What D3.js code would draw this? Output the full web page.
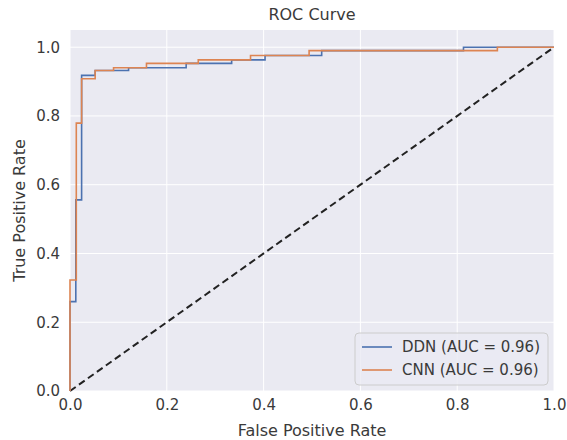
<!DOCTYPE html>
<html>
<head>
<meta charset="utf-8">
<script src="https://cdn.jsdelivr.net/npm/d3@7"></script>
<style>
  body { margin: 0; background: #fff; }
  text { font-family: "DejaVu Sans", sans-serif; fill: #3a3a3a; }
</style>
</head>
<body>
<svg id="chart" width="567" height="440"></svg>
<script>
// ROC points (corner points, as roc_curve gives them)
const ddnFpr = [0, 0, 0.012, 0.012, 0.024, 0.024, 0.052, 0.052, 0.121, 0.121, 0.240, 0.240, 0.334, 0.334, 0.403, 0.403, 0.520, 0.520, 0.813, 0.813, 1.0];
const ddnTpr = [0, 0.26, 0.26, 0.556, 0.556, 0.918, 0.918, 0.932, 0.932, 0.940, 0.940, 0.953, 0.953, 0.963, 0.963, 0.976, 0.976, 0.990, 0.990, 1.0, 1.0];
const cnnFpr = [0, 0, 0.013, 0.013, 0.024, 0.024, 0.052, 0.052, 0.090, 0.090, 0.158, 0.158, 0.265, 0.265, 0.373, 0.373, 0.494, 0.494, 0.883, 0.883, 1.0];
const cnnTpr = [0, 0.323, 0.323, 0.779, 0.779, 0.908, 0.908, 0.932, 0.932, 0.940, 0.940, 0.953, 0.953, 0.963, 0.963, 0.976, 0.976, 0.990, 0.990, 1.0, 1.0];
const seriesNames = ["DDN (AUC = 0.96)", "CNN (AUC = 0.96)"];
const seriesColors = ["#4C72B0", "#DD8452"];
const tickValues = [0, 0.2, 0.4, 0.6, 0.8, 1.0];

const margin = { left: 70, right: 13, top: 30, bottom: 49 };
const W = 567, H = 440;
const iw = W - margin.left - margin.right, ih = H - margin.top - margin.bottom;

const svg = d3.select("#chart");
const g = svg.append("g").attr("transform", `translate(${margin.left},${margin.top})`);

const x = d3.scaleLinear().domain([0, 1]).range([0, iw]);
const y = d3.scaleLinear().domain([0, 1.05]).range([ih, 0]);

// darkgrid background
g.append("rect").attr("width", iw).attr("height", ih).attr("fill", "#EAEAF2");

// grid
g.append("g").selectAll("line.vg").data(tickValues).enter().append("line")
    .attr("x1", d => x(d)).attr("x2", d => x(d)).attr("y1", 0).attr("y2", ih)
    .attr("stroke", "#fff").attr("stroke-width", 1);
g.append("g").selectAll("line.hg").data(tickValues).enter().append("line")
    .attr("y1", d => y(d)).attr("y2", d => y(d)).attr("x1", 0).attr("x2", iw)
    .attr("stroke", "#fff").attr("stroke-width", 1);

// axes (ticks only, no spines)
const xAxis = g.append("g").attr("transform", `translate(0,${ih})`)
    .call(d3.axisBottom(x).tickValues(tickValues).tickFormat(d3.format(".1f")).tickSize(0).tickPadding(8));
const yAxis = g.append("g")
    .call(d3.axisLeft(y).tickValues(tickValues).tickFormat(d3.format(".1f")).tickSize(0).tickPadding(10));
[xAxis, yAxis].forEach(a => {
    a.select(".domain").remove();
    a.selectAll("text").attr("font-size", 15).attr("fill", "#3a3a3a").attr("font-family", "DejaVu Sans");
});

// chance line
g.append("line")
    .attr("x1", x(0)).attr("y1", y(0)).attr("x2", x(1)).attr("y2", y(1))
    .attr("stroke", "#222").attr("stroke-width", 2).attr("stroke-dasharray", "7,4");

// curves
const line = d3.line().x(d => x(d[0])).y(d => y(d[1]));
const curves = [d3.zip(ddnFpr, ddnTpr), d3.zip(cnnFpr, cnnTpr)];
g.selectAll("path.roc").data(curves).enter().append("path")
    .attr("class", "roc")
    .attr("d", line)
    .attr("fill", "none")
    .attr("stroke", (d, i) => seriesColors[i])
    .attr("stroke-width", 1.6);

// titles
svg.append("text").attr("x", margin.left + iw / 2).attr("y", 20)
    .attr("text-anchor", "middle").attr("font-size", 16).text("ROC Curve");
svg.append("text").attr("x", margin.left + iw / 2).attr("y", 436)
    .attr("text-anchor", "middle").attr("font-size", 16).text("False Positive Rate");
svg.append("text").attr("transform", `translate(25,${margin.top + ih / 2}) rotate(-90)`)
    .attr("text-anchor", "middle").attr("font-size", 16).text("True Positive Rate");

// legend
const leg = svg.append("g").attr("transform", "translate(355,333)");
leg.append("rect").attr("width", 193).attr("height", 52).attr("rx", 4)
    .attr("fill", "#EAEAF2").attr("fill-opacity", 0.8)
    .attr("stroke", "#cccccc").attr("stroke-width", 1);
seriesNames.forEach((name, i) => {
    const yy = 14 + i * 23;
    leg.append("line").attr("x1", 7).attr("x2", 37).attr("y1", yy).attr("y2", yy)
        .attr("stroke", seriesColors[i]).attr("stroke-width", 1.6);
    leg.append("text").attr("x", 47).attr("y", yy).attr("dy", "0.35em")
        .attr("font-size", 15).text(name);
});
</script>
</body>
</html>
